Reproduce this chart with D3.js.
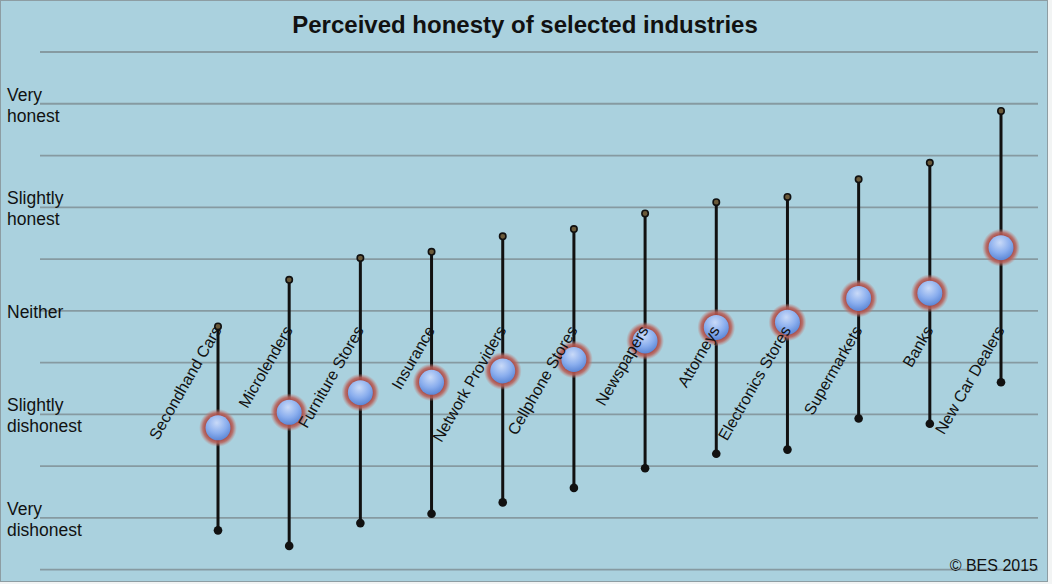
<!DOCTYPE html>
<html lang="en">
<head>
  <meta charset="UTF-8">
  <script src="https://d3js.org/d3.v7.min.js"></script>
  <style>
    body { margin: 0; background: #f2f4f4; }
    svg text { font-family: "Liberation Sans", Arial, sans-serif; fill: #111; }
  </style>
</head>
<body>
  <svg id="chart" width="1052" height="584"></svg>

  <script>
    // data (scale: -2 very dishonest .. 2 very honest)
    const industries = ["Secondhand Cars", "Microlenders", "Furniture Stores", "Insurance",
      "Network Providers", "Cellphone Stores", "Newspapers", "Attorneys",
      "Electronics Stores", "Supermarkets", "Banks", "New Car Dealers"];
    const meanValues = [-1.13, -0.98, -0.79, -0.69, -0.58, -0.47, -0.29, -0.16, -0.11, 0.12, 0.17, 0.61];
    const upperValues = [-0.15, 0.30, 0.51, 0.57, 0.72, 0.79, 0.94, 1.05, 1.10, 1.27, 1.43, 1.93];
    const lowerValues = [-2.12, -2.27, -2.05, -1.96, -1.85, -1.71, -1.52, -1.38, -1.34, -1.04, -1.09, -0.69];
    const gridValues = [2.5, 2, 1.5, 1, 0.5, 0, -0.5, -1, -1.5, -2, -2.5];
    const tickLabels = [
      { value: 2, lines: ["Very", "honest"] },
      { value: 1, lines: ["Slightly", "honest"] },
      { value: 0, lines: ["Neither"] },
      { value: -1, lines: ["Slightly", "dishonest"] },
      { value: -2, lines: ["Very", "dishonest"] }
    ];

    const svg = d3.select("#chart");

    const y = d3.scaleLinear().domain([-2.5, 2.5]).range([569.7, 52]);
    const x = d3.scalePoint().domain(industries).range([218, 1001]);

    // gradients
    const defs = svg.append("defs");
    const ball = defs.append("radialGradient").attr("id", "ball")
      .attr("cx", "45%").attr("cy", "30%").attr("r", "75%");
    ball.append("stop").attr("offset", "0%").attr("stop-color", "#c9daf8");
    ball.append("stop").attr("offset", "55%").attr("stop-color", "#8aaeee");
    ball.append("stop").attr("offset", "100%").attr("stop-color", "#5581d2");
    const glow = defs.append("radialGradient").attr("id", "glow");
    glow.append("stop").attr("offset", "62%").attr("stop-color", "#a8453e").attr("stop-opacity", 1);
    glow.append("stop").attr("offset", "80%").attr("stop-color", "#b8625b").attr("stop-opacity", 0.85);
    glow.append("stop").attr("offset", "100%").attr("stop-color", "#c08480").attr("stop-opacity", 0);

    // background panel
    svg.append("rect")
      .attr("x", 0.5).attr("y", 0.5).attr("width", 1047).attr("height", 581)
      .attr("fill", "#aad1de").attr("stroke", "#8d9da3");

    // gridlines
    svg.selectAll("line.grid").data(gridValues)
      .join("line")
      .attr("class", "grid")
      .attr("x1", 40).attr("x2", 1038)
      .attr("y1", d => y(d)).attr("y2", d => y(d))
      .attr("stroke", "#869aa1").attr("stroke-width", 1.8);

    // y labels
    const ticks = svg.selectAll("text.tick").data(tickLabels)
      .join("text")
      .attr("class", "tick")
      .attr("font-size", 17.5);
    ticks.selectAll("tspan").data(d => d.lines.map((l, i) => ({ l, i, d })))
      .join("tspan")
      .attr("x", 7)
      .attr("y", t => t.d.lines.length === 1 ? y(t.d.value) + 7 : y(t.d.value) - 3 + t.i * 21)
      .text(t => t.l);

    // title
    svg.append("text")
      .attr("x", 525).attr("y", 33)
      .attr("text-anchor", "middle")
      .attr("font-size", 24).attr("font-weight", "bold")
      .text("Perceived honesty of selected industries");

    // copyright
    svg.append("text")
      .attr("x", 1038).attr("y", 571)
      .attr("text-anchor", "end")
      .attr("font-size", 16)
      .text("\u00a9 BES 2015");

    const rows = industries.map((name, i) => ({
      name, mean: meanValues[i], hi: upperValues[i], lo: lowerValues[i]
    }));

    // whiskers
    svg.selectAll("line.range").data(rows)
      .join("line")
      .attr("class", "range")
      .attr("x1", d => x(d.name)).attr("x2", d => x(d.name))
      .attr("y1", d => y(d.hi)).attr("y2", d => y(d.lo))
      .attr("stroke", "#111").attr("stroke-width", 3);

    svg.selectAll("circle.hi").data(rows)
      .join("circle")
      .attr("class", "hi")
      .attr("cx", d => x(d.name)).attr("cy", d => y(d.hi))
      .attr("r", 3.2)
      .attr("fill", "#6b5a3a").attr("stroke", "#111").attr("stroke-width", 1.6);

    svg.selectAll("circle.lo").data(rows)
      .join("circle")
      .attr("class", "lo")
      .attr("cx", d => x(d.name)).attr("cy", d => y(d.lo))
      .attr("r", 4.3)
      .attr("fill", "#111");

    // mean markers
    svg.selectAll("circle.glow").data(rows)
      .join("circle")
      .attr("class", "glow")
      .attr("cx", d => x(d.name)).attr("cy", d => y(d.mean))
      .attr("r", 19)
      .attr("fill", "url(#glow)");

    svg.selectAll("circle.mean").data(rows)
      .join("circle")
      .attr("class", "mean")
      .attr("cx", d => x(d.name)).attr("cy", d => y(d.mean))
      .attr("r", 12.5)
      .attr("fill", "url(#ball)");

    // category labels
    svg.selectAll("text.cat").data(rows)
      .join("text")
      .attr("class", "cat")
      .attr("text-anchor", "end")
      .attr("font-size", 16)
      .attr("transform", d => "translate(" + (x(d.name) + 4) + "," + 330 + ") rotate(-60)")
      .text(d => d.name);
  </script>
</body>
</html>
